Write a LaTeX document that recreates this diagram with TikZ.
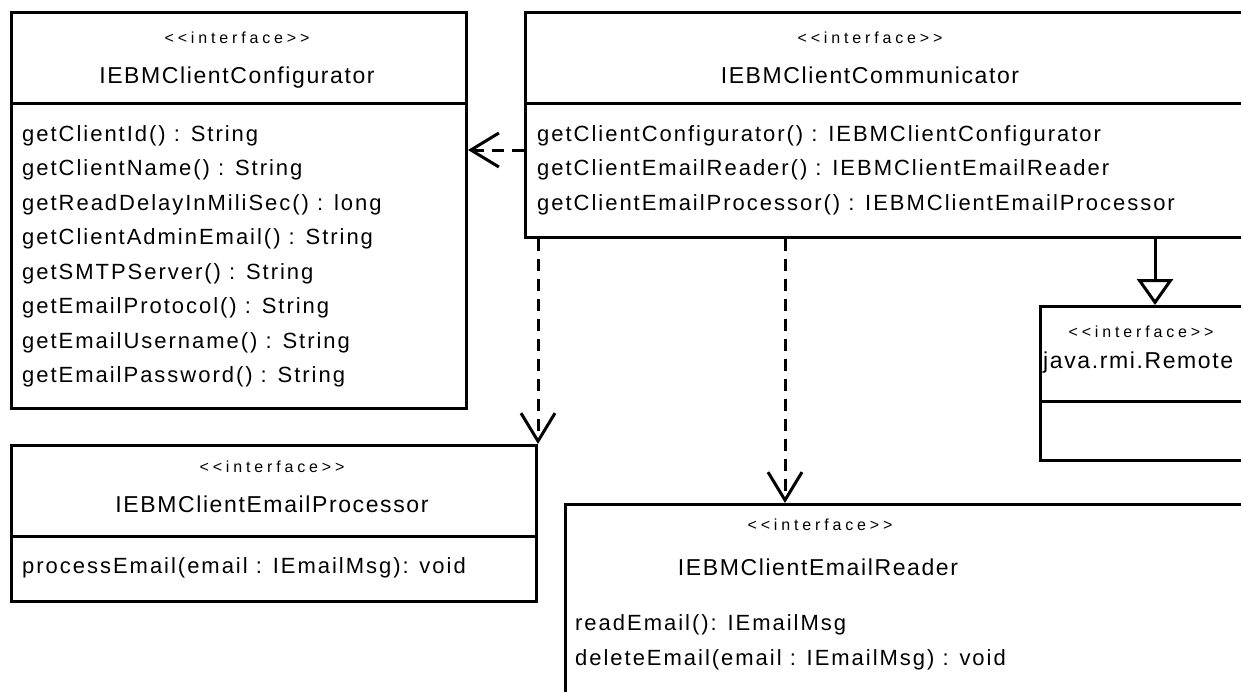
\documentclass[tikz,border=0pt]{standalone}
\usepackage{fontspec}
\setmainfont{Liberation Sans}
\newfontfamily\umlopfont[LetterSpace=9]{Liberation Sans}
\newfontfamily\umlnamefont[LetterSpace=7]{Liberation Sans}
\newfontfamily\umlstfont[LetterSpace=24]{Liberation Sans}
\usetikzlibrary{arrows.meta,positioning,calc}
\definecolor{boxline}{RGB}{0,0,0}
\tikzset{
  umlbox/.style={
    draw=boxline, line width=3pt, fill=white,
    anchor=north west, inner sep=0pt
  },
  umlsep/.style={draw=boxline, line width=3pt},
  umlstereo/.style={anchor=base, inner sep=0pt, font=\umlstfont\fontsize{16}{18}\selectfont},
  umlname/.style={anchor=base, inner sep=0pt, font=\umlnamefont\fontsize{23}{27}\selectfont},
  % base of a multi-line node = baseline of its last line
  umlops/.style={anchor=base west, inner sep=0pt, align=left, font=\umlopfont\fontsize{22}{34.5}\selectfont},
  umldep/.style={-{Straight Barb[length=28pt, width=34pt, line width=3pt]}, line width=3pt, dash pattern=on 12pt off 8pt, draw=boxline},
  umlgen/.style={-{Triangle[open, length=26pt, width=36pt, line width=3pt]}, line width=3pt, draw=boxline}
}

\begin{document}
\begin{tikzpicture}[x=1pt, y=-1pt]
\useasboundingbox (0,0) rectangle (1241,691);
\clip (0,0) rectangle (1241,691);

% ---- IEBMClientConfigurator ----
\node[umlbox, minimum width=455pt, minimum height=396pt] (Configurator) at (10,11) {};
\draw[umlsep] (Configurator.west |- 0,103) -- (Configurator.east |- 0,103);
\node[umlstereo] (ConfiguratorSt) at (237,43) {<<interface>>};
\node[umlname] (ConfiguratorName) at (237,83) {IEBMClientConfigurator};
\node[umlops] (ConfiguratorOps) at (22,382.5) {
  getClientId() : String \\
  getClientName() : String \\
  getReadDelayInMiliSec() : long \\
  getClientAdminEmail() : String \\
  getSMTPServer() : String \\
  getEmailProtocol() : String \\
  getEmailUsername() : String \\
  getEmailPassword() : String
};

% ---- IEBMClientCommunicator ----
\node[umlbox, minimum width=776pt, minimum height=225pt] (Communicator) at (524,11) {};
\draw[umlsep] (Communicator.west |- 0,103) -- (Communicator.east |- 0,103);
\node[umlstereo] (CommunicatorSt) at (870,43) {<<interface>>};
\node[umlname] (CommunicatorName) at (870,83) {IEBMClientCommunicator};
\node[umlops] (CommunicatorOps) at (537,210) {
  getClientConfigurator() : IEBMClientConfigurator \\
  getClientEmailReader() : IEBMClientEmailReader \\
  getClientEmailProcessor() : IEBMClientEmailProcessor
};

% ---- java.rmi.Remote ----
\node[umlbox, minimum width=261pt, minimum height=154pt] (Remote) at (1039,305) {};
\draw[umlsep] (Remote.west |- 0,401) -- (Remote.east |- 0,401);
\node[umlstereo] (RemoteSt) at (1141,337) {<<interface>>};
\node[umlname, anchor=base west] (RemoteName) at (1043,368) {java.rmi.Remote};

% ---- IEBMClientEmailProcessor ----
\node[umlbox, minimum width=525pt, minimum height=156pt] (Processor) at (10,444) {};
\draw[umlsep] (Processor.west |- 0,536) -- (Processor.east |- 0,536);
\node[umlstereo] (ProcessorSt) at (272,472) {<<interface>>};
\node[umlname] (ProcessorName) at (272,512) {IEBMClientEmailProcessor};
\node[umlops] (ProcessorOps) at (22,573) {processEmail(email : IEmailMsg): void};

% ---- IEBMClientEmailReader ----
\node[umlbox, minimum width=736pt, minimum height=260pt] (Reader) at (564,503) {};
\node[umlstereo] (ReaderSt) at (820,530) {<<interface>>};
\node[umlname] (ReaderName) at (818,575) {IEBMClientEmailReader};
\node[umlops] (ReaderOps) at (575,665) {
  readEmail(): IEmailMsg \\
  deleteEmail(email : IEmailMsg) : void
};

% ---- Relationships ----
\draw[umldep] (Communicator.west |- 0,150) -- (Configurator.east |- 0,150);
\draw[umldep] (Communicator.south west -| Processor.north east) -- (Processor.north east);
\draw[umldep] ([xshift=261pt]Communicator.south west) -- ([xshift=221pt]Reader.north west);
\draw[umlgen] ([xshift=631pt]Communicator.south west) -- ([xshift=116pt]Remote.north west);

\end{tikzpicture}
\end{document}
